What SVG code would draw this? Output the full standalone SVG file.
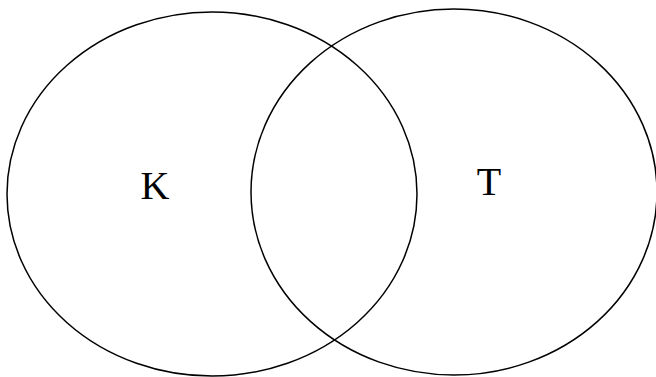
<svg xmlns="http://www.w3.org/2000/svg" width="656" height="377" viewBox="0 0 656 377">
<style>
.set{fill:none;stroke:#000;stroke-width:1.5}
.lbl{font-family:"Liberation Serif",serif;font-size:40px;fill:#000;text-anchor:middle}
</style>
<rect width="656" height="377" fill="#fff"/>
<g id="K">
<ellipse class="set" cx="212" cy="194" rx="205" ry="182"/>
<text class="lbl" x="155" y="199">K</text>
</g>
<g id="T">
<ellipse class="set" cx="454" cy="192" rx="203" ry="183"/>
<text class="lbl" x="489" y="195">T</text>
</g>
<g id="connectors"></g>
</svg>
